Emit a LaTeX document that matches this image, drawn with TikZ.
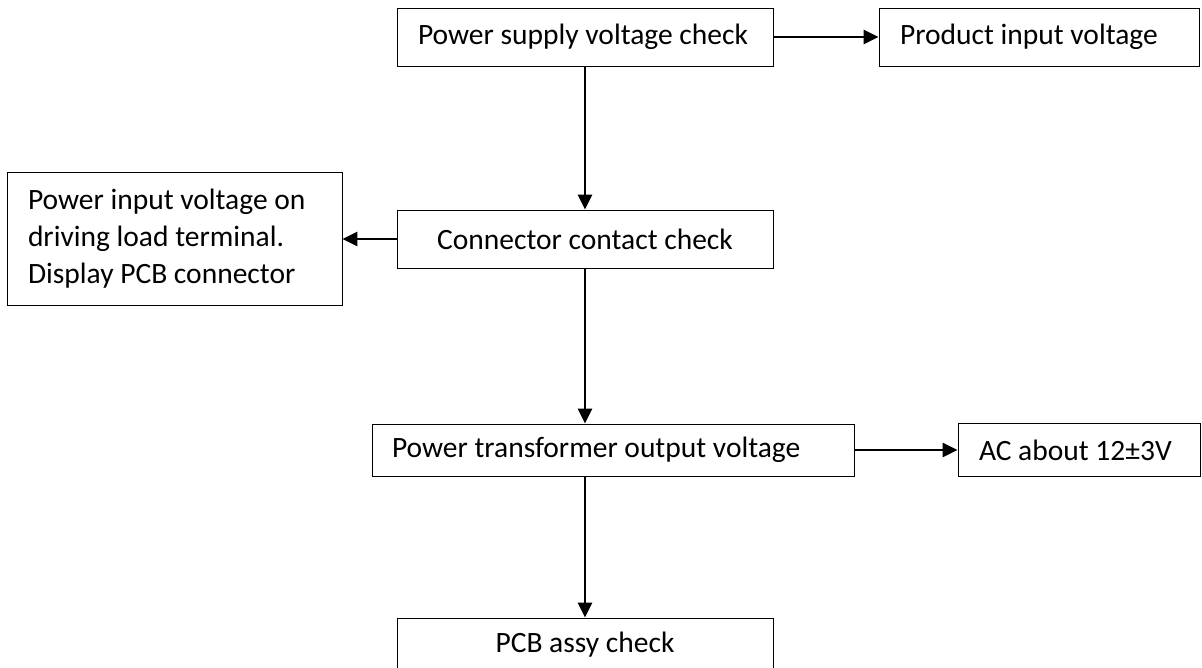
\documentclass[tikz,border=0pt]{standalone}
\usepackage{fontspec}
\setmainfont{Carlito}
\usetikzlibrary{arrows.meta}

\begin{document}
\begin{tikzpicture}[x=1pt,y=-1pt,
    box/.style={draw,line width=0.9pt,inner sep=0pt,font=\fontsize{29.5}{37}\selectfont},
    flow/.style={line width=2.6pt,-{Triangle[length=15pt,width=14pt]}}]
   \useasboundingbox (0,0) rectangle (1202,667);
   % top row
   \node (supply) at (585,37)[box,minimum width=376pt,minimum height=58pt,text width=334pt,align=flush left]{Power supply voltage check};
   \node (product) at (1039,37)[box,minimum width=320pt,minimum height=58pt,text width=278pt,align=flush left]{Product input voltage};
   % middle
   \node (contact) at (585,239)[box,minimum width=376pt,minimum height=58pt,align=center]{Connector contact check};
   \node (load) at (174.5,239)[box,minimum width=335pt,minimum height=133pt,text width=293pt,align=flush left]{Power input voltage on\\driving load terminal.\\Display PCB connector};
   % transformer row
   \node (trafo) at (613,450)[box,minimum width=482pt,minimum height=52pt,text width=442pt,align=flush left]{Power transformer output voltage};
   \node (ac) at (1079,450)[box,minimum width=242pt,minimum height=53pt,text width=200pt,align=flush left]{AC about 12±3V};
   % bottom, cut by the page
   \node (pcb) at (585,645)[box,minimum width=376pt,minimum height=54pt,align=center]{PCB assy check};
         \draw [flow] (supply) -- (product);
         \draw [flow] (supply.south) -- (contact.north);
         \draw [flow] (contact) -- (load);
         \draw [flow] (contact.south) -- (contact.south |- trafo.north);
         \draw [flow] (trafo) -- (ac);
         \draw [flow] (trafo.south -| pcb.north) -- (pcb.north);
    \end{tikzpicture}
\end{document}
